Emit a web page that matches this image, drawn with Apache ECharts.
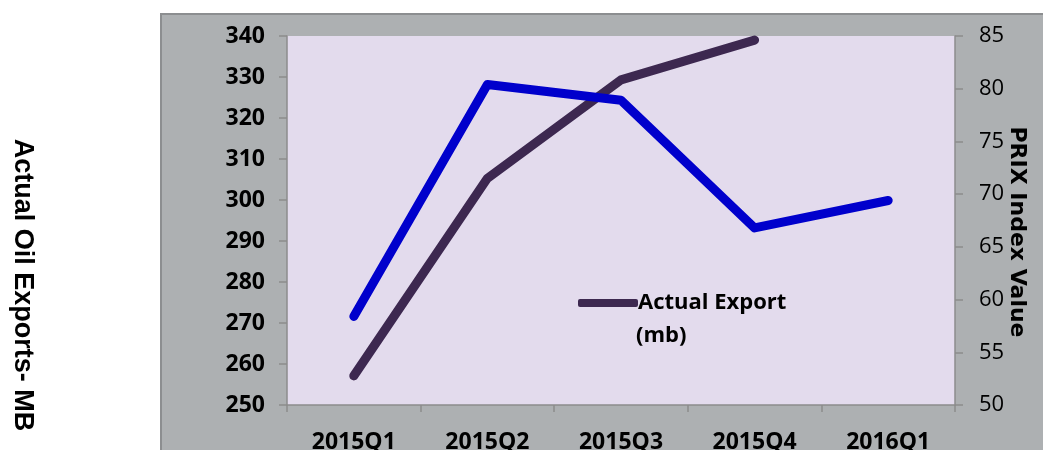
<!DOCTYPE html>
<html>
<head>
<meta charset="utf-8">
<script src="https://cdn.jsdelivr.net/npm/echarts@6/dist/echarts.min.js"></script>
<style>html,body{margin:0;padding:0;background:#fff}#c{width:1043px;height:450px}</style>
</head>
<body>
<div id="c"></div>
<script>
var categories = ['2015Q1', '2015Q2', '2015Q3', '2015Q4', '2016Q1'];
var actualExport = [257.1, 305.3, 329.3, 339.0, null];
var prixIndex = [58.4, 80.4, 78.9, 66.8, 69.4];
var leftTicks = {min: 250, max: 340, interval: 10};
var rightTicks = {min: 50, max: 85, interval: 5};

var labelFont = '"Open Sans", Lato, sans-serif';
var chart = echarts.init(document.getElementById('c'));
chart.setOption({
  animation: false,
  backgroundColor: '#ffffff',
  graphic: [
    {type: 'rect', z: -10, shape: {x: 161, y: 14, width: 900, height: 460},
     style: {fill: '#adb0b2', stroke: '#8c8e90', lineWidth: 2}},
    {type: 'text', x: 22, y: 285, rotation: -Math.PI / 2,
     style: {text: 'Actual Oil Exports- MB', fill: '#000', font: 'bold 27px "Liberation Sans", Arial, sans-serif',
             textAlign: 'center', textVerticalAlign: 'middle'}},
    {type: 'text', x: 1017, y: 232, rotation: -Math.PI / 2,
     style: {text: 'PRIX Index Value', fill: '#000', font: 'bold 22px "DejaVu Sans", sans-serif',
             textAlign: 'center', textVerticalAlign: 'middle'}},
    {type: 'text', x: 636, y: 336,
     style: {text: '(mb)', fill: '#000', font: 'bold 22px "Open Sans", Lato, sans-serif', textVerticalAlign: 'middle'}}
  ],
  grid: {left: 287, top: 36, right: 88, bottom: 45, show: true, backgroundColor: '#e3dbed', borderWidth: 0,
         containLabel: false, outerBoundsMode: 'none'},
  legend: {
    data: ['Actual Export (mb)'],
    left: 573, top: 287,
    icon: 'roundRect', itemWidth: 60, itemHeight: 8, itemGap: 0,
    formatter: function () { return 'Actual Export'; },
    textStyle: {fontFamily: labelFont, fontWeight: 'bold', fontSize: 22, color: '#000', padding: [0, 0, 0, -5]}
  },
  xAxis: {
    type: 'category', data: categories, boundaryGap: true,
    axisLine: {lineStyle: {color: '#8c8c8c', width: 1.5}},
    axisTick: {show: true, length: 7, lineStyle: {color: '#8c8c8c', width: 1.5}},
    axisLabel: {margin: 26, color: '#000', fontFamily: labelFont, fontWeight: 'bold', fontSize: 23}
  },
  yAxis: [
    {type: 'value', min: leftTicks.min, max: leftTicks.max, interval: leftTicks.interval, position: 'left',
     splitLine: {show: false},
     axisLine: {show: true, lineStyle: {color: '#8c8c8c', width: 1.5}},
     axisTick: {show: true, length: 8, lineStyle: {color: '#8c8c8c', width: 1.5}},
     axisLabel: {margin: 22, color: '#000', fontFamily: labelFont, fontWeight: 'bold', fontSize: 23}},
    {type: 'value', min: rightTicks.min, max: rightTicks.max, interval: rightTicks.interval, position: 'right',
     splitLine: {show: false},
     axisLine: {show: true, lineStyle: {color: '#8c8c8c', width: 1.5}},
     axisTick: {show: true, length: 8, lineStyle: {color: '#8c8c8c', width: 1.5}},
     axisLabel: {margin: 24, color: '#000', fontFamily: labelFont, fontSize: 22}}
  ],
  series: [
    {name: 'Actual Export (mb)', type: 'line', yAxisIndex: 0, data: actualExport, showSymbol: false, symbol: 'none',
     itemStyle: {color: '#3d2850'}, lineStyle: {color: '#3d2850', width: 9, cap: 'round', join: 'round'}, z: 3},
    {name: 'PRIX Index', type: 'line', yAxisIndex: 1, data: prixIndex, showSymbol: false, symbol: 'none',
     itemStyle: {color: '#0000cc'}, lineStyle: {color: '#0000cc', width: 9, cap: 'round', join: 'round'}, z: 4}
  ]
});
</script>
</body>
</html>
